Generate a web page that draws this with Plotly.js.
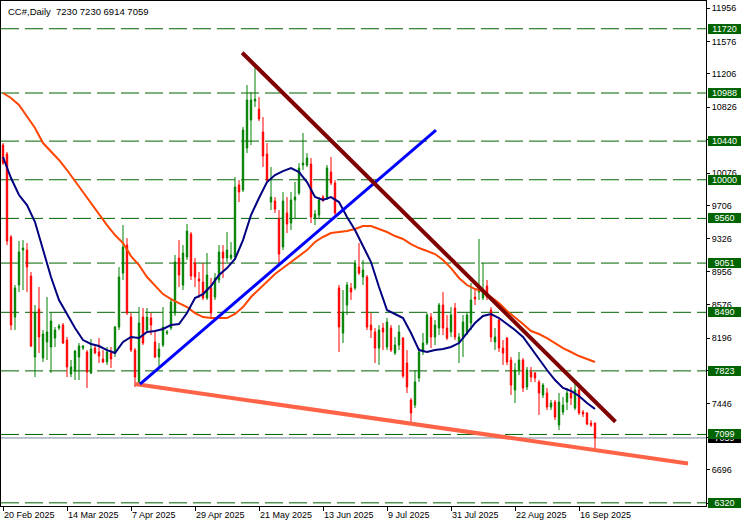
<!DOCTYPE html>
<html><head><meta charset="utf-8">
<script src="https://cdn.plot.ly/plotly-3.0.1.min.js"></script>
<style>html,body{margin:0;padding:0;background:#fff;}#chart{width:746px;height:527px;}</style>
</head><body><div id="chart"></div>
<script>
// Daily OHLC, bar index 0 = 20 Feb 2025
const open = [
10396,10293,9348,8436,8801,9199,9199,8903,7981,8527,
7969,8152,8095,8197,8311,8345,8174,7787,7821,7981,
8083,8038,7799,8083,8038,7958,7924,8026,8026,8322,
8937,9256,8436,8060,7684,8436,8288,8425,8152,7981,
8117,8254,8311,8482,9108,8801,9120,9382,9051,8869,
8835,8653,8767,8664,8858,9177,9108,9108,9120,9940,
9883,10361,10680,10897,10805,10544,10293,9746,9758,9553,
9234,9621,9507,9769,9849,10168,10168,10179,9564,9598,
9803,9803,10088,9963,8767,8254,8573,8767,8767,9006,
8892,8892,8345,8266,8083,8311,8095,8311,8026,8117,
8197,7912,7491,7434,7742,8038,8140,8436,8209,8311,
8573,8311,8266,8539,8152,8209,8266,8368,8664,8721,
8653,8789,8516,8152,8402,8083,8197,7947,7605,7833,
7947,7639,7810,7799,7696,7548,7571,7411,7468,7206,
7354,7468,7571,7400,7605,7354,7343,7229,7230];
const high = [
10418,10316,9370,8801,9302,9313,9279,8949,8573,8778,
8288,8664,8482,8322,8357,8368,8209,7947,8060,8140,
8117,8060,8186,8106,8197,8060,8095,8095,8334,9006,
9484,9336,8482,8083,8550,8539,8539,8482,8288,8140,
8550,8288,8653,9143,9313,9256,9496,9405,9108,8949,
9051,9165,8881,8937,9256,9256,9405,9290,10031,9997,
10600,11079,11000,11295,10942,10714,10418,10145,9803,9655,
9860,9803,9860,9974,10190,10532,10304,10247,9655,9803,
9826,10168,10259,9997,8801,8744,8835,8824,9086,9279,
9086,8915,8482,8311,8345,8368,8425,8345,8209,8345,
8209,8060,7514,7833,8083,8254,8482,8482,8402,8596,
8721,8459,8550,8596,8254,8459,8482,8824,8744,9325,
9051,8858,8550,8311,8436,8174,8209,7981,7912,8038,
7969,7867,7867,7810,7719,7684,7628,7491,7491,7571,
7525,7628,7639,7696,7684,7377,7354,7263,7230];
const low = [
10168,9256,8288,8288,8721,8744,8721,8095,7753,8026,
7924,7947,7799,8095,8288,8129,7753,7753,7719,7719,
8060,7628,7787,8015,7912,7912,7890,7855,7981,8288,
8858,8459,8038,7639,7673,8117,8254,8231,7969,7867,
8095,8231,8288,8448,8778,8744,9086,8858,8778,8653,
8630,8630,8436,8630,8824,8881,9063,9086,9086,9746,
9860,10304,10395,10828,10669,10145,9974,9655,9621,9051,
9199,9393,9427,9564,9826,10111,10145,9507,9484,9564,
9746,9769,9940,9598,8038,8140,8459,8630,8744,8915,
8801,8288,8197,7912,7890,8060,8060,8038,8004,8060,
7742,7571,7229,7400,7696,8004,8117,8083,8117,8231,
8231,8174,8209,8174,7912,7981,8231,8288,8573,8630,
8630,8630,8152,8060,8038,7890,7890,7548,7457,7776,
7582,7605,7696,7696,7320,7514,7377,7377,7263,7149,
7320,7377,7434,7377,7320,7297,7206,7184,6914];
const close = [
10190,9302,8345,8767,9177,9222,9006,8106,8482,8209,
8243,8266,8391,8288,8334,8140,7867,7867,8049,8106,
8106,7810,8072,8026,7992,7924,8038,7958,8322,8892,
9234,8482,8060,7753,8368,8140,8436,8345,7981,8072,
8322,8266,8607,9063,8915,9165,9416,8903,8892,8847,
8653,8915,8482,8881,9177,9108,9199,9143,9917,9860,
10566,10908,10908,10919,10692,10270,9997,9803,9666,9154,
9758,9496,9769,9803,10133,10190,10247,9575,9610,9769,
9769,10133,9963,9621,8322,8493,8801,8721,9051,8937,
8972,8322,8288,8083,8288,8266,8379,8060,8117,8266,
7764,7639,7343,7696,8038,8140,8459,8209,8345,8573,
8311,8197,8459,8209,8209,8379,8459,8630,8641,8778,
8744,8664,8209,8209,8083,8026,7924,7662,7833,7947,
7628,7833,7753,7742,7571,7662,7411,7457,7297,7468,
7434,7571,7514,7605,7343,7332,7218,7206,7059];

// Moving averages read every 2 bars (bar 0, 2, 4, ... 148)
const fastMA = [
10259,10020,9826,9712,9518,9199,8892,8630,8471,8311,
8174,8129,8106,8060,8026,8152,8209,8197,8266,8277,
8300,8345,8357,8482,8653,8698,8789,8915,8994,9097,
9313,9598,9792,9974,10054,10099,10133,10088,9974,9803,
9769,9803,9746,9575,9427,9245,9063,8778,8516,8471,
8425,8254,8060,8038,8060,8072,8095,8140,8254,8368,
8448,8471,8425,8357,8288,8209,8083,7947,7833,7719,
7628,7594,7537,7457,7388];
const slowMA = [
10988,10931,10851,10714,10589,10418,10327,10225,10111,9985,
9860,9724,9598,9484,9370,9279,9131,9029,8892,8801,
8698,8641,8596,8550,8482,8436,8425,8425,8425,8471,
8550,8664,8755,8847,8926,8994,9063,9131,9199,9291,
9348,9393,9405,9416,9439,9473,9473,9439,9405,9359,
9325,9268,9222,9188,9154,9086,8994,8881,8801,8755,
8733,8664,8596,8505,8436,8357,8277,8243,8197,8140,
8083,8038,7992,7958,7924];

// Trend lines (bar index, price)
const resistX = [59.8, 153.1], resistY = [11447, 7244];
const riseX = [34.25, 108.25], riseY = [7673, 10566];
const floorX = [33, 171.25], floorY = [7673, 6769];

const levels = [11720, 10988, 10440, 10000, 9560, 9051, 8490, 7823, 7099, 6320];
const lastPrice = 7059;
const yTicks = [11956, 11576, 11206, 10826, 10456, 10076, 9706, 9326, 8956, 8576, 8196, 7826, 7446, 7066, 6696, 6316];
// labels fully covered by the level boxes in the original are left blank
const yTickText = ['11956','11576','11206','10826','','10076','9706','9326','8956','8576','8196','','7446','','6696',''];
const dateTicks = [0, 16, 32, 48, 64, 80, 96, 112, 128, 144];
const dateLabels = ['20 Feb 2025','14 Mar 2025','7 Apr 2025','29 Apr 2025','21 May 2025','13 Jun 2025','9 Jul 2025','31 Jul 2025','22 Aug 2025','16 Sep 2025'];
const titleText = 'CC#,Daily\u00a0\u00a07230 7230 6914 7059';

const idx = open.map((_, i) => i);
const maX = fastMA.map((_, k) => 2 * k);
const FONT = 'Liberation Sans, Arial, sans-serif';

const data = [
  {type:'candlestick', x: idx, open: open, high: high, low: low, close: close,
   increasing:{line:{color:'#008000', width:1}, fillcolor:'#008000'},
   decreasing:{line:{color:'#FF0000', width:1}, fillcolor:'#FF0000'},
   whiskerwidth:0, hoverinfo:'skip'},
  {type:'scatter', mode:'lines', x: maX, y: slowMA, line:{color:'#FF4500', width:2}, hoverinfo:'skip'},
  {type:'scatter', mode:'lines', x: maX, y: fastMA, line:{color:'#000080', width:2}, hoverinfo:'skip'},
  {type:'scatter', mode:'lines', x: floorX, y: floorY, line:{color:'#FF6347', width:4}, hoverinfo:'skip'},
  {type:'scatter', mode:'lines', x: riseX, y: riseY, line:{color:'#0000FF', width:3}, hoverinfo:'skip'},
  {type:'scatter', mode:'lines', x: resistX, y: resistY, line:{color:'#800000', width:4}, hoverinfo:'skip'}
];

const shapes = levels.map(v => ({type:'line', xref:'paper', x0:0, x1:1, yref:'y', y0:v, y1:v,
  line:{color:'#006400', width:1, dash:'18px,6px'}, layer:'below'}));
shapes.push({type:'line', xref:'paper', x0:0, x1:1, yref:'y', y0:lastPrice, y1:lastPrice,
  line:{color:'#778899', width:1}, layer:'below'});

const annotations = [
  {xref:'paper', yref:'paper', x:0, y:1, xanchor:'left', yanchor:'top', xshift:5, yshift:-3,
   text:titleText, showarrow:false, font:{family:FONT, size:9.5, color:'#000'}},
  {xref:'paper', yref:'y', x:1, y:lastPrice, xanchor:'left', yanchor:'middle', xshift:2,
   text:String(lastPrice), showarrow:false, bgcolor:'#000', width:33, height:10, borderpad:0, borderwidth:0,
   font:{family:FONT, size:9, color:'#fff'}}
];
levels.forEach(v => annotations.push({xref:'paper', yref:'y', x:1, y:v, xanchor:'left', yanchor:'middle', xshift:2,
  text:String(v), showarrow:false, bgcolor:'#006400', width:33, height:10, borderpad:0, borderwidth:0,
  font:{family:FONT, size:9, color:'#fff'}}));

const layout = {
  width:746, height:527,
  margin:{l:1, r:40, t:1, b:21, pad:0},
  paper_bgcolor:'#fff', plot_bgcolor:'#fff',
  showlegend:false, boxgap:0.5,
  xaxis:{range:[-0.5, 175.75], showgrid:false, zeroline:false, showline:true, linecolor:'#000', linewidth:1, mirror:true,
    ticks:'outside', ticklen:4, tickcolor:'#000', tickvals:dateTicks, ticktext:dateLabels,
    ticklabelposition:'outside right', tickfont:{family:FONT, size:9, color:'#000'},
    rangeslider:{visible:false}, fixedrange:true},
  yaxis:{side:'right', range:[6284, 12036], showgrid:false, zeroline:false, showline:true, linecolor:'#000', linewidth:1, mirror:true,
    ticks:'outside', ticklen:3, tickcolor:'#000', tickvals:yTicks, ticktext:yTickText,
    tickfont:{family:FONT, size:9, color:'#000'}, fixedrange:true},
  shapes: shapes,
  annotations: annotations
};

Plotly.newPlot('chart', data, layout, {displayModeBar:false, staticPlot:true});
</script>
</body></html>
